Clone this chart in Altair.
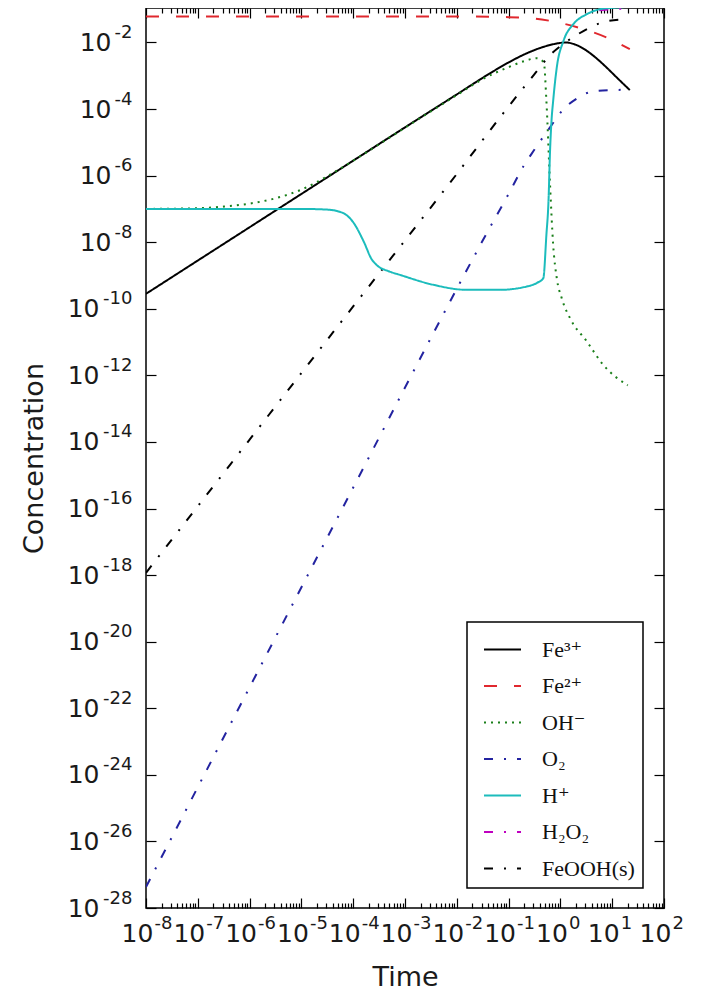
import altair as alt
import pandas as pd

# ---------------- data (log10 values) ----------------
species = ["Fe³⁺", "Fe²⁺", "OH⁻", "O₂", "H⁺", "H₂O₂", "FeOOH(s)"]
colors = ["#000000", "#e0282e", "#1a7f1a", "#2323a0", "#1cbcbc", "#bf00bf", "#000000"]
dashes = [[1, 0], [13, 17], [2, 5], [9, 11, 2, 11], [1, 0], [9, 11, 2, 11], [9, 11, 2, 11]]

fe3_logt = [-8, -7, -6, -5, -4, -3, -2, -1.3, -1.0, -0.7, -0.4, -0.1, 0.1, 0.3, 0.51, 0.7, 0.89, 1.1, 1.34]
fe3_logc = [-9.55, -8.55, -7.55, -6.55, -5.55, -4.55, -3.56, -2.87, -2.6, -2.36, -2.17, -2.04, -2.0, -2.07, -2.25, -2.48, -2.75, -3.07, -3.43]

fe2_logt = [-8, -2, -1, -0.5, -0.2, 0.34, 0.89, 1.34]
fe2_logc = [-1.22, -1.22, -1.24, -1.28, -1.35, -1.55, -1.85, -2.2]

oh_logt = [-8, -7, -6.5, -6, -5.5, -5, -4.5, -4, -3, -2, -1.5, -1.0, -0.7, -0.45, -0.32, -0.27, -0.2, -0.14, -0.07, 0.025, 0.185, 0.51, 0.83, 1.3]
oh_logc = [-7.0, -6.98, -6.93, -6.84, -6.68, -6.42, -6.02, -5.55, -4.56, -3.58, -3.1, -2.74, -2.56, -2.47, -2.6, -3.76, -6.27, -8.07, -9.08, -9.68, -10.28, -10.98, -11.69, -12.3]

o2_logt = [-8, -6, -4, -2, -1.5, -1, -0.71, -0.52, -0.2, 0.06, 0.31, 0.6, 0.96, 1.34]
o2_logc = [-27.37, -21.37, -15.37, -9.4, -7.95, -6.55, -5.71, -5.26, -4.55, -4.0, -3.69, -3.48, -3.43, -3.42]

h2o2_logt = [0.75, 1.0, 1.34]
h2o2_logc = [-1.03, -1.0, -0.98]

feooh_logt = [-8, -6, -4, -2, -1.04, -0.5, -0.2, 0.05, 0.34, 0.64, 0.93, 1.31]
feooh_logc = [-17.93, -13.93, -9.93, -5.95, -4.0, -2.95, -2.38, -2.05, -1.75, -1.5, -1.35, -1.3]

h_logt = [-8, -5, -4.5, -4.2, -4.0, -3.8, -3.64, -3.55, -3.3, -3.1, -2.45, -1.81, -1.17, -0.65, -0.45, -0.33,
          -0.27, -0.23, -0.2, -0.17, -0.14, -0.07, 0.06, 0.25, 0.51, 0.76, 1.0, 1.34]
h_logc = [-7.0, -7.0, -7.02, -7.12, -7.4, -7.97, -8.52, -8.68, -8.88, -8.98, -9.28, -9.43, -9.43, -9.33, -9.22, -9.08,
          -7.77, -6.77, -5.26, -4.31, -3.76, -2.75, -1.95, -1.45, -1.15, -1.0, -0.96, -0.93]

x_major = [10.0 ** e for e in range(-8, 3)]
x_minor = [k * 10.0 ** e for e in range(-8, 2) for k in range(2, 10)]
y_major = [10.0 ** e for e in range(-28, -1, 2)]
y_long = [v for v in y_major if v < 1e-9]
y_short = [v for v in y_major if v > 1e-9]

series = [
    ("Fe³⁺", fe3_logt, fe3_logc),
    ("Fe²⁺", fe2_logt, fe2_logc),
    ("OH⁻", oh_logt, oh_logc),
    ("O₂", o2_logt, o2_logc),
    ("H₂O₂", h2o2_logt, h2o2_logc),
    ("FeOOH(s)", feooh_logt, feooh_logc),
    ("H⁺", h_logt, h_logc),
]
rows = []
for name, lt, lc in series:
    for a, b in zip(lt, lc):
        rows.append({"species": name, "t": 10.0 ** a, "c": 10.0 ** b})
df = pd.DataFrame(rows)

# ---------------- scales & axes ----------------
X_SCALE = alt.Scale(type="log", domain=[1e-8, 1e2], nice=False)
Y_SCALE = alt.Scale(type="log", domain=[1e-28, 0.1086], nice=False)

FONT = "DejaVu Sans"
base = dict(domain=False, grid=False, tickColor="black", tickWidth=1.2,
            labelColor="#1a1a1a", labelFont=FONT, labelOverlap=False, labelFlush=False)
EXP = "'' + round(log(datum.value) / LN10)"


def xenc(axis):
    return alt.X("t:Q", scale=X_SCALE, axis=axis)


def yenc(axis):
    return alt.Y("c:Q", scale=Y_SCALE, axis=axis)


ax_x_main = alt.Axis(orient="bottom", values=x_major, offset=-10, tickSize=10, labelExpr="'10'",
                     labelFontSize=25, labelPadding=13, labelAlign="center", labelOffset=-9,
                     title="Time", titleFont=FONT, titleFontSize=27, titleFontWeight="normal",
                     titleColor="#1a1a1a", titlePadding=18, **base)
ax_x_exp = alt.Axis(orient="bottom", values=x_major, ticks=False, tickSize=0, offset=0, labelExpr=EXP,
                    labelFontSize=18, labelPadding=6, labelAlign="left", labelOffset=8, title=None, **base)
ax_x_minor = alt.Axis(orient="bottom", values=x_minor, offset=-5, tickSize=5, labels=False, title=None, **base)
ax_x_top = alt.Axis(orient="top", values=x_major, offset=-10, tickSize=10, labels=False, title=None, **base)
ax_x_top_minor = alt.Axis(orient="top", values=x_minor, offset=-5, tickSize=5, labels=False, title=None, **base)

ax_y_ticks = alt.Axis(orient="left", values=y_major, offset=-10, tickSize=10, labels=False, title=None, **base)
ax_y_right = alt.Axis(orient="right", values=y_major, offset=-10, tickSize=10, labels=False, title=None, **base)
ax_y_long = alt.Axis(orient="left", values=y_long, ticks=False, tickSize=0, labelExpr="'10'", labelFontSize=25,
                     labelPadding=47, title="Concentration", titleFont=FONT, titleFontSize=27,
                     titleFontWeight="normal", titleColor="#1a1a1a", titlePadding=19, **base)
ax_y_short = alt.Axis(orient="left", values=y_short, ticks=False, tickSize=0, labelExpr="'10'", labelFontSize=25,
                      labelPadding=35, title=None, **base)
ax_y_exp = alt.Axis(orient="left", values=y_major, ticks=False, tickSize=0, labelExpr=EXP, labelFontSize=18,
                    labelPadding=14, labelOffset=-10, title=None, **base)

pairs = [
    (ax_x_main, ax_y_ticks),
    (ax_x_exp, ax_y_right),
    (ax_x_minor, ax_y_long),
    (ax_x_top, ax_y_short),
    (ax_x_top_minor, ax_y_exp),
]
axis_layers = [
    alt.Chart(df).mark_point(opacity=0).encode(x=xenc(ax), y=yenc(ay))
    for ax, ay in pairs
]

legend = alt.Legend(title=None, orient="none", legendX=321, legendY=614, symbolType="stroke",
                    symbolSize=1369, symbolStrokeWidth=2, labelFont="Liberation Serif, DejaVu Serif",
                    labelFontSize=22, labelColor="#111111", padding=8, symbolOffset=8, labelOffset=20,
                    rowPadding=5.5, strokeColor="black", fillColor="white", cornerRadius=0)

lines = alt.Chart(df).mark_line(strokeWidth=2, clip=True, interpolate="monotone").encode(
    x=xenc(None),
    y=yenc(None),
    color=alt.Color("species:N", scale=alt.Scale(domain=species, range=colors), legend=legend),
    strokeDash=alt.StrokeDash("species:N", scale=alt.Scale(domain=species, range=dashes), legend=legend),
)

chart = alt.layer(*axis_layers, lines).resolve_axis(
    x="independent", y="independent"
).properties(
    width=518, height=900,
    autosize=alt.AutoSizeParams(type="none"),
    padding={"left": 138, "top": 0, "right": 37, "bottom": 92},
).configure_view(stroke="black", strokeWidth=1.5).configure_legend(strokeWidth=1.5)

chart.save("out.html", embed_options={"renderer": "svg", "actions": False})
